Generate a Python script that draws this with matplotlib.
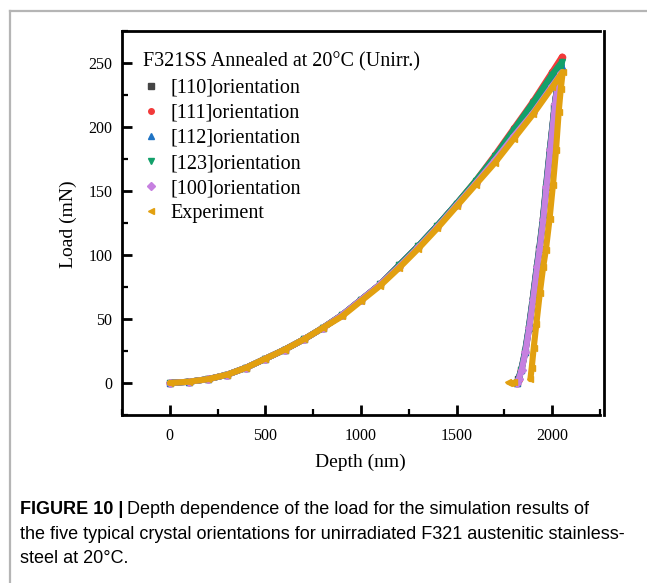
import matplotlib
matplotlib.use("Agg")
import matplotlib.pyplot as plt
from matplotlib.lines import Line2D

plt.rcParams["font.family"] = ["Liberation Serif", "DejaVu Serif"]

# ---------------- data ----------------
labels = ["[110]orientation", "[111]orientation", "[112]orientation",
          "[123]orientation", "[100]orientation", "Experiment"]
colors = ["#454545", "#f23a3a", "#1f73c4", "#12a06a", "#c680e0", "#e2a010"]
markers = ["s", "o", "^", "v", "D", "<"]

depth_load = [0, 100, 200, 300, 400, 500, 600, 700, 800, 900, 1000,
              1100, 1200, 1300, 1400, 1500, 1600, 1700, 1800, 1900, 2000]

load_110 = [0, 1, 3, 6.5, 12, 19, 26, 34, 43, 53, 65, 77, 92, 107, 123, 140, 157, 176, 196, 216, 237]
load_111 = [0, 1, 3, 6.5, 12, 19, 26, 34, 43, 53, 65, 77, 92, 107, 123, 140, 158, 178, 199, 220, 243]
load_112 = [0, 1, 3, 6.5, 12, 19, 26, 34, 43, 53, 65, 77, 92, 107, 123, 140, 157, 176, 197, 217, 239]
load_123 = [0, 1, 3, 6.5, 12, 19, 26, 34, 43, 53, 65, 77, 92, 107, 123, 140, 158, 177, 198, 219, 241]
load_100 = [0, 1, 3, 6.5, 12, 19, 26, 34, 43, 53, 65, 77, 91, 106, 122, 139, 156, 174, 193, 211, 232]
load_exp = [0, 1, 3, 6.5, 12, 19, 26, 34, 43, 52, 64, 76, 90, 105, 121, 138, 155, 172, 191, 210, 231]

unload_depth_110 = [2048, 2030, 2012, 1987, 1967, 1950, 1932, 1919, 1897, 1877, 1857, 1837, 1822, 1814]
unload_load_110 = [244, 236, 216, 182, 153, 127, 105, 91, 65, 43, 24, 10, 3, 0]
unload_depth_111 = [2052, 2034, 2014, 1989, 1969, 1952, 1934, 1921, 1899, 1879, 1859, 1839, 1824, 1816]
unload_load_111 = [255, 240, 218, 182, 153, 127, 105, 91, 65, 43, 24, 10, 3, 0]
unload_depth_112 = [2051, 2033, 2013, 1988, 1968, 1951, 1933, 1920, 1898, 1878, 1858, 1838, 1823, 1815]
unload_load_112 = [248, 238, 217, 182, 153, 127, 105, 91, 65, 43, 24, 10, 3, 0]
unload_depth_123 = [2052, 2034, 2014, 1989, 1969, 1952, 1934, 1921, 1899, 1879, 1859, 1839, 1824, 1816]
unload_load_123 = [251, 239, 218, 182, 153, 127, 105, 91, 65, 43, 24, 10, 3, 0]
unload_depth_100 = [2048, 2032, 2015, 1990, 1970, 1953, 1935, 1922, 1900, 1880, 1860, 1840, 1825, 1817]
unload_load_100 = [242, 236, 218, 182, 153, 127, 105, 91, 65, 43, 24, 10, 3, 0]
unload_depth_exp = [2055, 2045, 2034, 2020, 2004, 1986, 1967, 1953, 1935, 1917, 1903, 1893, 1886]
unload_load_exp = [243, 230, 212, 182, 155, 128, 104, 91, 70, 46, 27, 12, 3]
tail_depth_exp = [1768, 1776, 1784, 1792, 1800]
tail_load_exp = [0.5, 0.3, 0.2, 0.5, 1.0]

loads = [load_110, load_111, load_112, load_123, load_100, load_exp]
unload_depths = [unload_depth_110, unload_depth_111, unload_depth_112,
                 unload_depth_123, unload_depth_100, unload_depth_exp]
unload_loads = [unload_load_110, unload_load_111, unload_load_112,
                unload_load_123, unload_load_100, unload_load_exp]

xticks = [0, 500, 1000, 1500, 2000]
yticks = [0, 50, 100, 150, 200, 250]

# ---------------- figure ----------------
W, H = 647, 583
fig = plt.figure(figsize=(W / 100, H / 100), dpi=100)
fig.patch.set_facecolor("white")

# outer grey frame (top and left)
fig.add_artist(Line2D([10 / W, 1.0], [1 - 11 / H, 1 - 11 / H], color="#b5b5b5", lw=1.6,
                      transform=fig.transFigure))
fig.add_artist(Line2D([10 / W, 10 / W], [1 - 11 / H, 0.0], color="#b5b5b5", lw=1.6,
                      transform=fig.transFigure))

L, R, T, B = 122, 600, 31, 415
ax = fig.add_axes([L / W, 1 - B / H, (R - L) / W, (B - T) / H])

for i in range(6):
    xs = depth_load + unload_depths[i]
    ys = loads[i] + unload_loads[i]
    ax.plot(xs, ys, color=colors[i], lw=4.4, solid_joinstyle="round",
            solid_capstyle="round", zorder=2 + i)
    ax.plot(xs, ys, linestyle="none", marker=markers[i], ms=4.5, color=colors[i],
            mec=colors[i], zorder=2 + i)
ax.plot(tail_depth_exp, tail_load_exp, linestyle="none", marker="<", ms=5,
        color=colors[5], mec=colors[5], zorder=8)

ax.set_xlim(-250, 2250)
ax.set_ylim(-25, 275)
ax.set_xticks(xticks)
ax.set_yticks(yticks)
ax.set_xticks([-250, 250, 750, 1250, 1750, 2250], minor=True)
ax.set_yticks([-25, 25, 75, 125, 175, 225, 275], minor=True)
ax.tick_params(which="major", direction="in", length=7, width=2, labelsize=11.5)
ax.tick_params(axis="x", which="major", pad=9)
ax.tick_params(axis="y", which="major", pad=7)
ax.tick_params(which="minor", direction="in", length=4, width=1.6)
ax.tick_params(top=False, right=False, which="both")
for s in ax.spines.values():
    s.set_linewidth(2.0)
ax.spines["right"].set_position(("outward", 3))

ax.set_xlabel("Depth (nm)", fontsize=14)
ax.set_ylabel("Load (mN)", fontsize=14)
ax.xaxis.set_label_coords((360 - L) / (R - L), (B - 462) / (B - T))
ax.xaxis.label.set_va("center")
ax.yaxis.set_label_coords((68 - L) / (R - L), (B - 224) / (B - T))
ax.yaxis.label.set_va("center")

ax.text(0.044, 0.919, "F321SS Annealed at 20\u00b0C (Unirr.)", transform=ax.transAxes,
        fontsize=14.5, va="center", ha="left")

handles = [Line2D([], [], linestyle="none", marker=markers[i], color=colors[i],
                  mec=colors[i], ms=4) for i in range(6)]
leg = ax.legend(handles, labels, loc="upper left", bbox_to_anchor=(0.039, 0.876),
                frameon=False, borderpad=0, borderaxespad=0, handlelength=1.0,
                handletextpad=0.5, labelspacing=0.3, fontsize=14.5)

# caption
cap_font = ["Liberation Sans", "DejaVu Sans"]
lines = ["Depth dependence of the load for the simulation results of",
         "the five typical crystal orientations for unirradiated F321 austenitic stainless-",
         "steel at 20\u00b0C."]
ys_cap = [514, 539, 563]
t_bold = fig.text(20 / W, 1 - ys_cap[0] / H, "FIGURE 10 |", family=cap_font, weight="bold",
                  fontsize=13, va="baseline", ha="left")
fig.canvas.draw()
bb = t_bold.get_window_extent()
fig.text((bb.x1 + 4) / W, 1 - ys_cap[0] / H, lines[0], family=cap_font, fontsize=13,
         va="baseline", ha="left")
for k in (1, 2):
    fig.text(20 / W, 1 - ys_cap[k] / H, lines[k], family=cap_font, fontsize=13,
             va="baseline", ha="left")

fig.savefig("out.png", dpi=100)
